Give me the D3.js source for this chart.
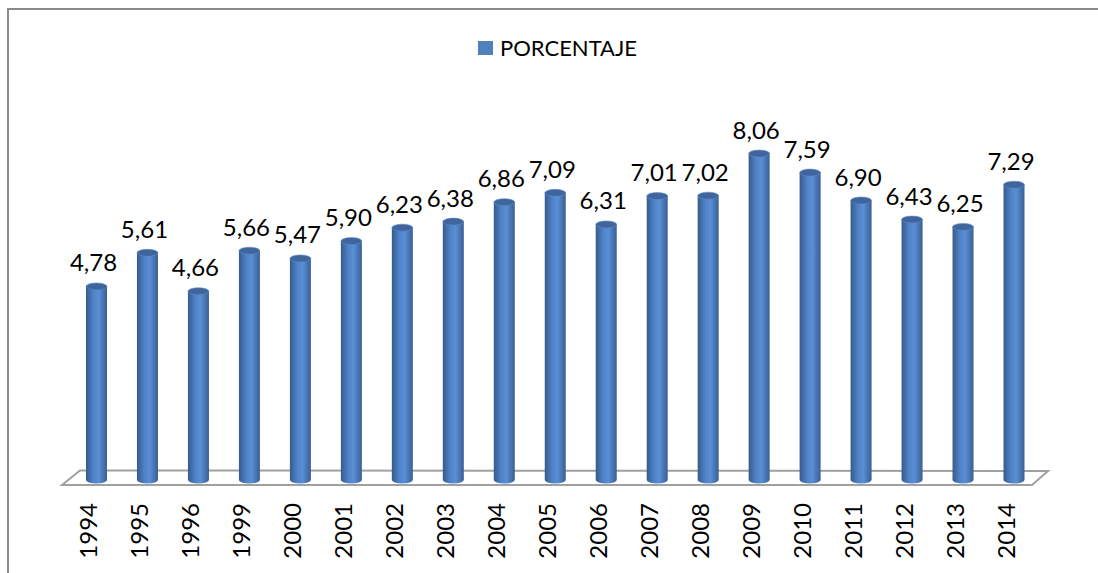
<!DOCTYPE html>
<html>
<head>
  <title>Porcentaje</title>
  <style>
    body { margin: 0; background: #fff; }
    svg { display: block; }
  </style>
</head>
<body>
<svg width="1098" height="573" class="svg-chart"></svg>
<script src="https://cdnjs.cloudflare.com/ajax/libs/d3/7.8.5/d3.min.js"></script>
<script type="text/javascript">
  // data
  var years = ['1994', '1995', '1996', '1999', '2000', '2001', '2002', '2003', '2004', '2005',
               '2006', '2007', '2008', '2009', '2010', '2011', '2012', '2013', '2014']
  var values = [4.78, 5.61, 4.66, 5.66, 5.47, 5.90, 6.23, 6.38, 6.86, 7.09,
                6.31, 7.01, 7.02, 8.06, 7.59, 6.90, 6.43, 6.25, 7.29]
  var seriesName = 'PORCENTAJE'

  var svg = d3.select('.svg-chart')
  var font = 'Lato, Calibri, Carlito, sans-serif'

  // outer frame (only left and top edges are visible)
  svg.append('path')
    .attr('d', 'M8,573 L8,9 L1098,9')
    .attr('fill', 'none')
    .attr('stroke', '#8a8a8a')
    .attr('stroke-width', 2)

  var x = d3.scalePoint().domain(years).range([96.5, 1014])
  var y = d3.scaleLinear().domain([0, 9]).range([480, 480 - 9 * 40.5])

  // gradient for the cylinders
  var defs = svg.append('defs')
  var grad = defs.append('linearGradient').attr('id', 'cyl')
    .attr('x1', '0%').attr('x2', '100%').attr('y1', '0%').attr('y2', '0%')
  grad.append('stop').attr('offset', '0%').attr('stop-color', '#375a8c')
  grad.append('stop').attr('offset', '35%').attr('stop-color', '#4f82c6')
  grad.append('stop').attr('offset', '60%').attr('stop-color', '#5a8fd6')
  grad.append('stop').attr('offset', '100%').attr('stop-color', '#3a5f94')

  // floor
  svg.append('polygon')
    .attr('points', '62,485 80,470.5 1048,471 1032,485')
    .attr('fill', '#fff')
    .attr('stroke', '#a0a0a0')
    .attr('stroke-width', 2)

  var bw = 21, ry = 3.5
  var data = years.map(function(yr, i){ return {year: yr, value: values[i]} })

  var bars = svg.append('g').selectAll('g')
    .data(data)
    .enter()
    .append('g')

  bars.append('ellipse')
    .attr('cx', function(d){ return x(d.year) })
    .attr('cy', y(0))
    .attr('rx', bw / 2)
    .attr('ry', ry)
    .attr('fill', 'url(#cyl)')

  bars.append('rect')
    .attr('x', function(d){ return x(d.year) - bw / 2 })
    .attr('y', function(d){ return y(d.value) })
    .attr('width', bw)
    .attr('height', function(d){ return y(0) - y(d.value) })
    .attr('fill', 'url(#cyl)')

  bars.append('ellipse')
    .attr('cx', function(d){ return x(d.year) })
    .attr('cy', function(d){ return y(d.value) })
    .attr('rx', bw / 2)
    .attr('ry', ry)
    .attr('fill', '#3f659c')
    .attr('stroke', '#5b8bcc')
    .attr('stroke-width', 0.6)

  // value labels
  bars.append('text')
    .attr('x', function(d){ return x(d.year) - 3 })
    .attr('y', function(d){ return y(d.value) - 15 })
    .attr('text-anchor', 'middle')
    .attr('font-family', font)
    .attr('font-size', 24)
    .attr('fill', '#000')
    .text(function(d){ return d.value.toFixed(2).replace('.', ',') })

  // category labels, rotated
  svg.append('g').selectAll('text')
    .data(years)
    .enter()
    .append('text')
    .attr('transform', function(d){ return 'translate(' + (x(d) + 0.5) + ',503) rotate(-90)' })
    .attr('text-anchor', 'end')
    .attr('font-family', font)
    .attr('font-size', 24)
    .attr('fill', '#000')
    .text(function(d){ return d })

  // legend
  var legend = svg.append('g')
  legend.append('rect')
    .attr('x', 478).attr('y', 41)
    .attr('width', 15).attr('height', 14)
    .attr('fill', '#4f81bd')
  legend.append('text')
    .attr('x', 500).attr('y', 56)
    .attr('font-family', font)
    .attr('font-size', 22)
    .attr('fill', '#000')
    .text(seriesName)
</script>
</body>
</html>
